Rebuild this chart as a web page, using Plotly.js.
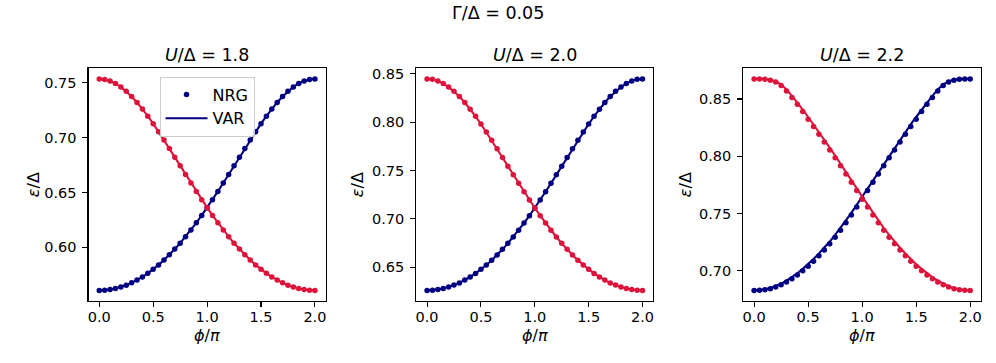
<!DOCTYPE html>
<html>
<head>
<meta charset="utf-8">
<script src="https://cdn.plot.ly/plotly-3.0.1.min.js"></script>
<style>html,body{margin:0;padding:0;background:#fff}#chart{width:996px;height:363px}</style>
</head>
<body>
<div id="chart"></div>
<script>
// ---- data ----
const phi = [0.00,0.05,0.10,0.15,0.20,0.25,0.30,0.35,0.40,0.45,0.50,0.55,0.60,0.65,0.70,0.75,0.80,0.85,0.90,0.95,1.00,
             1.05,1.10,1.15,1.20,1.25,1.30,1.35,1.40,1.45,1.50,1.55,1.60,1.65,1.70,1.75,1.80,1.85,1.90,1.95,2.00];

const panelTitles = ["<i>U</i>/Δ = 1.8", "<i>U</i>/Δ = 2.0", "<i>U</i>/Δ = 2.2"];
const suptitle = "Γ/Δ = 0.05";
const xTickVals = [0.0, 0.5, 1.0, 1.5, 2.0];

// U/Δ = 1.8
const nrg1Navy = [0.5607,0.5609,0.5615,0.5624,0.5638,0.5655,0.5676,0.5702,0.5730,0.5763,
                  0.5800,0.5840,0.5884,0.5932,0.5984,0.6038,0.6097,0.6159,0.6224,0.6291,
                  0.6362,0.6435,0.6510,0.6587,0.6665,0.6744,0.6823,0.6901,0.6979,0.7055,
                  0.7128,0.7197,0.7262,0.7322,0.7376,0.7424,0.7464,0.7495,0.7518,0.7532,
                  0.7537];
const nrg1Red  = [0.7537,0.7532,0.7518,0.7495,0.7464,0.7424,0.7376,0.7322,0.7262,0.7197,
                  0.7128,0.7055,0.6979,0.6901,0.6823,0.6744,0.6665,0.6587,0.6510,0.6435,
                  0.6362,0.6291,0.6224,0.6159,0.6097,0.6038,0.5984,0.5932,0.5884,0.5840,
                  0.5800,0.5763,0.5730,0.5702,0.5676,0.5655,0.5638,0.5624,0.5615,0.5609,
                  0.5607];
const var1Navy = [0.5607,0.5609,0.5615,0.5624,0.5638,0.5655,0.5676,0.5702,0.5730,0.5763,
                  0.5800,0.5840,0.5884,0.5932,0.5984,0.6038,0.6097,0.6159,0.6224,0.6291,
                  0.6362,0.6435,0.6510,0.6587,0.6665,0.6744,0.6823,0.6901,0.6979,0.7055,
                  0.7128,0.7197,0.7262,0.7322,0.7376,0.7424,0.7464,0.7495,0.7518,0.7532,
                  0.7537];
const var1Red  = [0.7537,0.7532,0.7518,0.7495,0.7464,0.7424,0.7376,0.7322,0.7262,0.7197,
                  0.7128,0.7055,0.6979,0.6901,0.6823,0.6744,0.6665,0.6587,0.6510,0.6435,
                  0.6362,0.6291,0.6224,0.6159,0.6097,0.6038,0.5984,0.5932,0.5884,0.5840,
                  0.5800,0.5763,0.5730,0.5702,0.5676,0.5655,0.5638,0.5624,0.5615,0.5609,
                  0.5607];

// U/Δ = 2.0
const nrg2Navy = [0.6259,0.6261,0.6268,0.6279,0.6294,0.6314,0.6337,0.6366,0.6398,0.6435,
                  0.6477,0.6522,0.6572,0.6626,0.6684,0.6746,0.6812,0.6882,0.6956,0.7032,
                  0.7112,0.7195,0.7280,0.7367,0.7456,0.7545,0.7635,0.7724,0.7812,0.7898,
                  0.7981,0.8061,0.8135,0.8203,0.8265,0.8319,0.8364,0.8400,0.8427,0.8443,
                  0.8448];
const nrg2Red  = [0.8448,0.8443,0.8427,0.8400,0.8364,0.8319,0.8265,0.8203,0.8135,0.8061,
                  0.7981,0.7898,0.7812,0.7724,0.7635,0.7545,0.7456,0.7367,0.7280,0.7195,
                  0.7112,0.7032,0.6956,0.6882,0.6812,0.6746,0.6684,0.6626,0.6572,0.6522,
                  0.6477,0.6435,0.6398,0.6366,0.6337,0.6314,0.6294,0.6279,0.6268,0.6261,
                  0.6259];
const var2Navy = [0.6259,0.6261,0.6268,0.6279,0.6294,0.6314,0.6337,0.6366,0.6398,0.6435,
                  0.6477,0.6522,0.6572,0.6626,0.6684,0.6746,0.6812,0.6882,0.6956,0.7032,
                  0.7112,0.7195,0.7280,0.7367,0.7456,0.7545,0.7635,0.7724,0.7812,0.7898,
                  0.7981,0.8061,0.8135,0.8203,0.8265,0.8319,0.8364,0.8400,0.8427,0.8443,
                  0.8448];
const var2Red  = [0.8448,0.8443,0.8427,0.8400,0.8364,0.8319,0.8265,0.8203,0.8135,0.8061,
                  0.7981,0.7898,0.7812,0.7724,0.7635,0.7545,0.7456,0.7367,0.7280,0.7195,
                  0.7112,0.7032,0.6956,0.6882,0.6812,0.6746,0.6684,0.6626,0.6572,0.6522,
                  0.6477,0.6435,0.6398,0.6366,0.6337,0.6314,0.6294,0.6279,0.6268,0.6261,
                  0.6259];

// U/Δ = 2.2
const nrg3Navy = [0.6828,0.6829,0.6834,0.6843,0.6858,0.6878,0.6902,0.6931,0.6963,0.6999,
                  0.7039,0.7083,0.7130,0.7181,0.7235,0.7293,0.7353,0.7419,0.7486,0.7556,
                  0.7627,0.7700,0.7773,0.7845,0.7917,0.7986,0.8055,0.8124,0.8192,0.8259,
                  0.8324,0.8391,0.8454,0.8514,0.8571,0.8618,0.8649,0.8665,0.8673,0.8675,
                  0.8676];
const nrg3Red  = [0.8676,0.8675,0.8673,0.8665,0.8649,0.8618,0.8571,0.8514,0.8454,0.8391,
                  0.8324,0.8259,0.8192,0.8124,0.8055,0.7986,0.7917,0.7845,0.7773,0.7700,
                  0.7627,0.7556,0.7486,0.7419,0.7353,0.7293,0.7235,0.7181,0.7130,0.7083,
                  0.7039,0.6999,0.6963,0.6931,0.6902,0.6878,0.6858,0.6843,0.6834,0.6829,
                  0.6828];
const var3Navy = [0.6828,0.6830,0.6837,0.6848,0.6865,0.6887,0.6913,0.6944,0.6978,0.7016,
                  0.7057,0.7102,0.7150,0.7201,0.7255,0.7313,0.7373,0.7439,0.7506,0.7576,
                  0.7647,0.7720,0.7793,0.7865,0.7937,0.8006,0.8075,0.8144,0.8212,0.8278,
                  0.8343,0.8408,0.8470,0.8528,0.8583,0.8627,0.8656,0.8669,0.8675,0.8676,
                  0.8676];
const var3Red  = [0.8676,0.8676,0.8675,0.8669,0.8656,0.8627,0.8583,0.8528,0.8470,0.8408,
                  0.8343,0.8278,0.8212,0.8144,0.8075,0.8006,0.7937,0.7865,0.7793,0.7720,
                  0.7647,0.7576,0.7506,0.7439,0.7373,0.7313,0.7255,0.7201,0.7150,0.7102,
                  0.7057,0.7016,0.6978,0.6944,0.6913,0.6887,0.6865,0.6848,0.6837,0.6830,
                  0.6828];

// ---- styling / layout ----
const NAVY = "#000080", RED = "#DC143C";
const FONT = "DejaVu Sans, Liberation Sans, sans-serif";
const W = 996, H = 363;
const xDom = [[88.5, 325.7], [416.3, 653.3], [743.3, 981.0]];
const yTopPx = 68.3, yBotPx = 301.0;
const yLabelX = [33.5, 357.5, 685.5];

const panels = [
  {navyN: nrg1Navy, redN: nrg1Red, navyV: var1Navy, redV: var1Red},
  {navyN: nrg2Navy, redN: nrg2Red, navyV: var2Navy, redV: var2Red},
  {navyN: nrg3Navy, redN: nrg3Red, navyV: var3Navy, redV: var3Red}
];

const traces = [];
const layout = {
  width: W, height: H,
  margin: {l: 0, r: 0, t: 0, b: 0, pad: 0},
  paper_bgcolor: "#fff", plot_bgcolor: "#fff",
  font: {family: FONT, size: 15, color: "#000"},
  showlegend: true,
  legend: {
    x: 159.5 / W, y: 1 - 76.5 / H, xanchor: "left", yanchor: "top",
    bgcolor: "rgba(255,255,255,0.8)", bordercolor: "#cccccc", borderwidth: 1,
    font: {family: FONT, size: 16, color: "#000"},
    itemwidth: 42, tracegroupgap: 0
  },
  annotations: []
};

panels.forEach((p, i) => {
  const ax = i === 0 ? "" : String(i + 1);
  const xa = "x" + ax, ya = "y" + ax;
  const all = p.navyN.concat(p.redN, p.navyV, p.redV);
  const lo = Math.min(...all), hi = Math.max(...all), span = hi - lo;
  const common = {
    showgrid: false, zeroline: false, showline: true, mirror: true,
    linecolor: "#000", linewidth: 1.1, ticks: "outside", ticklen: 5, tickwidth: 1.1,
    tickcolor: "#000", tickfont: {family: FONT, size: 14.5, color: "#000"}, automargin: false
  };
  layout["xaxis" + ax] = Object.assign({}, common, {
    domain: [xDom[i][0] / W, xDom[i][1] / W], anchor: ya,
    range: [-0.1, 2.1], tickvals: xTickVals, tickformat: ".1f", ticklabelstandoff: -3
  });
  layout["yaxis" + ax] = Object.assign({}, common, {
    domain: [1 - yBotPx / H, 1 - yTopPx / H], anchor: xa,
    range: [lo - 0.05 * span, hi + 0.05 * span], dtick: 0.05, tick0: 0, tickformat: ".2f",
    ticklabelstandoff: 3
  });
  const first = i === 0;
  traces.push({x: phi, y: p.navyN, xaxis: xa, yaxis: ya, type: "scatter", mode: "markers",
               marker: {color: NAVY, size: 5.5}, name: "NRG", showlegend: first});
  traces.push({x: phi, y: p.navyV, xaxis: xa, yaxis: ya, type: "scatter", mode: "lines",
               line: {color: NAVY, width: 2.1}, name: "VAR", showlegend: first});
  traces.push({x: phi, y: p.redN, xaxis: xa, yaxis: ya, type: "scatter", mode: "markers",
               marker: {color: RED, size: 5.5}, name: "NRG", showlegend: false});
  traces.push({x: phi, y: p.redV, xaxis: xa, yaxis: ya, type: "scatter", mode: "lines",
               line: {color: RED, width: 2.1}, name: "VAR", showlegend: false});

  const cx = (xDom[i][0] + xDom[i][1]) / 2 / W;
  layout.annotations.push({text: panelTitles[i], xref: "paper", yref: "paper", x: cx, y: 1 - 55 / H,
    xanchor: "center", yanchor: "middle", showarrow: false, font: {family: FONT, size: 17.5, color: "#000"}});
  layout.annotations.push({text: "<i>ϕ</i>/<i>π</i>", xref: "paper", yref: "paper", x: cx, y: 1 - 335 / H,
    xanchor: "center", yanchor: "middle", showarrow: false, font: {family: FONT, size: 16, color: "#000"}});
  layout.annotations.push({text: "<i>ε</i>/Δ", xref: "paper", yref: "paper", x: yLabelX[i] / W,
    y: 1 - ((yTopPx + yBotPx) / 2) / H, xanchor: "center", yanchor: "middle", textangle: -90,
    showarrow: false, font: {family: FONT, size: 16, color: "#000"}});
});

layout.annotations.push({text: suptitle, xref: "paper", yref: "paper", x: 0.5, y: 1 - 13.5 / H,
  xanchor: "center", yanchor: "middle", showarrow: false, font: {family: FONT, size: 17.5, color: "#000"}});

Plotly.newPlot("chart", traces, layout, {displayModeBar: false, staticPlot: true});
</script>
</body>
</html>
